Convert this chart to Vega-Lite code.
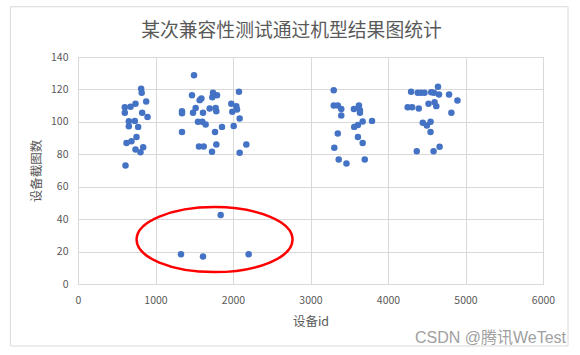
{
  "$schema": "https://vega.github.io/schema/vega-lite/v6.json",
  "width": 465,
  "height": 227,
  "autosize": {"type": "none"},
  "padding": {"left": 78, "top": 57, "right": 37, "bottom": 71},
  "background": "white",
  "title": {
    "text": "某次兼容性测试通过机型结果图统计",
    "font": "Noto Sans CJK SC",
    "fontSize": 18.8,
    "fontWeight": "normal",
    "color": "#595959",
    "anchor": "middle",
    "frame": "group",
    "dx": -19,
    "offset": -35
  },
  "config": {
    "view": {"stroke": "#d9d9d9"},
    "axis": {
      "domain": false,
      "ticks": false,
      "grid": true,
      "gridColor": "#d9d9d9",
      "gridWidth": 1,
      "labelColor": "#595959",
      "labelFont": "Noto Sans CJK SC",
      "labelFontSize": 10.5,
      "labelOverlap": false,
      "titleColor": "#595959",
      "titleFont": "Noto Sans CJK SC",
      "titleFontSize": 12.5,
      "titleFontWeight": "normal"
    }
  },
  "layer": [
    {
      "data": {"values": [
        {"id": 815, "count": 120.5}, {"id": 822, "count": 118}, {"id": 880, "count": 112.5}, {"id": 742, "count": 111.1},
        {"id": 678, "count": 109.3}, {"id": 604, "count": 109}, {"id": 604, "count": 105.6}, {"id": 828, "count": 105.6},
        {"id": 897, "count": 103}, {"id": 656, "count": 100.4}, {"id": 733, "count": 100.6}, {"id": 656, "count": 97.3},
        {"id": 776, "count": 96.9}, {"id": 755, "count": 90.7}, {"id": 690, "count": 88.1}, {"id": 626, "count": 87},
        {"id": 742, "count": 82.9}, {"id": 841, "count": 84.4}, {"id": 806, "count": 81.3}, {"id": 613, "count": 73.1},
        {"id": 1497, "count": 128.8}, {"id": 1471, "count": 116.4}, {"id": 1592, "count": 114.4}, {"id": 1570, "count": 113.4},
        {"id": 1742, "count": 117.9}, {"id": 1794, "count": 116.4}, {"id": 1733, "count": 115.2}, {"id": 2077, "count": 118.5},
        {"id": 1342, "count": 106.6}, {"id": 1342, "count": 105.3}, {"id": 1518, "count": 108.6}, {"id": 1484, "count": 105.6},
        {"id": 1613, "count": 105.6}, {"id": 1699, "count": 108.2}, {"id": 1776, "count": 108.6}, {"id": 1785, "count": 106.6},
        {"id": 1978, "count": 111.1}, {"id": 2043, "count": 109.7}, {"id": 1991, "count": 106.2}, {"id": 2052, "count": 107.6},
        {"id": 2086, "count": 102.1}, {"id": 1548, "count": 100}, {"id": 1604, "count": 100}, {"id": 1647, "count": 98.4},
        {"id": 1858, "count": 96.9}, {"id": 2009, "count": 97.5}, {"id": 1342, "count": 93.8}, {"id": 1768, "count": 93.8},
        {"id": 1561, "count": 84.8}, {"id": 1622, "count": 84.8}, {"id": 1785, "count": 86}, {"id": 1729, "count": 81.5},
        {"id": 2086, "count": 80.9}, {"id": 2172, "count": 86},
        {"id": 3300, "count": 119.5}, {"id": 3300, "count": 110.1}, {"id": 3352, "count": 110.1}, {"id": 3397, "count": 108},
        {"id": 3397, "count": 103.9}, {"id": 3560, "count": 108}, {"id": 3625, "count": 110.1}, {"id": 3638, "count": 107.2},
        {"id": 3638, "count": 105.6}, {"id": 3794, "count": 100.6}, {"id": 3673, "count": 100.2}, {"id": 3612, "count": 98.1},
        {"id": 3564, "count": 96.9}, {"id": 3352, "count": 92.8}, {"id": 3612, "count": 90.7}, {"id": 3673, "count": 87},
        {"id": 3307, "count": 84}, {"id": 3364, "count": 76.8}, {"id": 3464, "count": 74.3}, {"id": 3700, "count": 76.8},
        {"id": 4298, "count": 118.5}, {"id": 4384, "count": 117.9}, {"id": 4428, "count": 117.9}, {"id": 4471, "count": 117.9},
        {"id": 4558, "count": 118.3}, {"id": 4645, "count": 121.6}, {"id": 4658, "count": 116.9}, {"id": 4593, "count": 117.9},
        {"id": 4788, "count": 116.9}, {"id": 4896, "count": 113.2}, {"id": 4254, "count": 109}, {"id": 4311, "count": 109},
        {"id": 4397, "count": 108.2}, {"id": 4523, "count": 111.1}, {"id": 4601, "count": 112.1}, {"id": 4623, "count": 109.7},
        {"id": 4818, "count": 105.6}, {"id": 4449, "count": 99.4}, {"id": 4501, "count": 97.7}, {"id": 4549, "count": 100},
        {"id": 4549, "count": 93.8}, {"id": 4371, "count": 81.9}, {"id": 4588, "count": 81.9}, {"id": 4666, "count": 84.6},
        {"id": 1841, "count": 42.5}, {"id": 1329, "count": 18.4}, {"id": 1613, "count": 17}, {"id": 2202, "count": 18.4}
      ]},
      "mark": {"type": "point", "filled": true, "color": "#4472C4", "opacity": 1, "size": 42},
      "encoding": {
        "x": {
          "field": "id", "type": "quantitative", "title": "设备id",
          "scale": {"domain": [0, 6000], "nice": false, "zero": false},
          "axis": {"values": [0, 1000, 2000, 3000, 4000, 5000, 6000], "tickCount": 10, "format": "d", "labelPadding": 11, "titlePadding": 10, "labelFlush": false}
        },
        "y": {
          "field": "count", "type": "quantitative", "title": "设备截图数",
          "scale": {"domain": [0, 140], "nice": false, "zero": false},
          "axis": {"values": [0, 20, 40, 60, 80, 100, 120, 140], "tickCount": 10, "format": "d", "labelPadding": 10, "titlePadding": 7, "labelFlush": false}
        }
      }
    },
    {
      "data": {"values": [{}]},
      "mark": {
        "type": "point",
        "shape": "M 1 0 C 1 0.2301 0.5523 0.4167 0 0.4167 C -0.5523 0.4167 -1 0.2301 -1 0 C -1 -0.2301 -0.5523 -0.4167 0 -0.4167 C 0.5523 -0.4167 1 -0.2301 1 0 Z",
        "size": 24336,
        "filled": false,
        "stroke": "#FF0000",
        "strokeWidth": 2.5,
        "opacity": 1
      },
      "encoding": {
        "x": {"datum": 1762, "type": "quantitative"},
        "y": {"datum": 27.4, "type": "quantitative"}
      }
    },
    {
      "data": {"values": [{}]},
      "mark": {"type": "rect", "fill": null, "stroke": "#d9d9d9", "strokeWidth": 1},
      "encoding": {
        "x": {"datum": -872, "type": "quantitative"},
        "x2": {"datum": 6323},
        "y": {"datum": 171, "type": "quantitative"},
        "y2": {"datum": -38.2}
      }
    },
    {
      "data": {"values": [{}]},
      "mark": {"type": "text", "text": "CSDN @腾讯WeTest", "font": "Liberation Sans, Noto Sans CJK SC", "fontSize": 16, "color": "#a0a0a0", "align": "right", "baseline": "middle"},
      "encoding": {
        "x": {"datum": 6297, "type": "quantitative"},
        "y": {"datum": -33, "type": "quantitative"}
      }
    }
  ]
}
